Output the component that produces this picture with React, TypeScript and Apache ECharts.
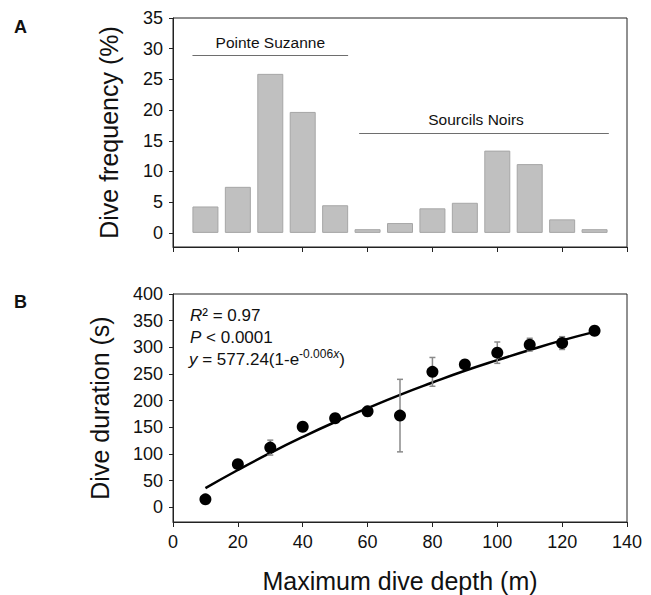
import React, { useEffect, useRef } from "react";
import * as echarts from "echarts";

// ---- Data ----
const depthBins = [10, 20, 30, 40, 50, 60, 70, 80, 90, 100, 110, 120, 130];
const diveFrequency = [4.3, 7.5, 25.9, 19.7, 4.5, 0.6, 1.6, 4.0, 4.9, 13.4, 11.2, 2.2, 0.6];

const meanDuration = [15, 81, 112, 151, 167, 180, 172, 254, 268, 290, 305, 308, 331];
const durationErr = [0, 3, 14, 0, 3, 9, 68, 27, 4, 20, 12, 12, 0];
// fitted curve at each depth
const fitDuration = [36, 70, 102, 132, 160, 186, 211, 234, 256, 276, 295, 313, 329];

const freqTicks = [0, 5, 10, 15, 20, 25, 30, 35];
const durTicks = [0, 50, 100, 150, 200, 250, 300, 350, 400];

const siteA = { name: "Pointe Suzanne", from: 6, to: 54, level: 28.9 };
const siteB = { name: "Sourcils Noirs", from: 57.4, to: 134.4, level: 16.2 };

const FONT = "'Liberation Sans', Arial, Helvetica, sans-serif";
const AXIS_COLOR = "#222";
const TEXT_COLOR = "#111";

export default function App() {
  const ref = useRef<HTMLDivElement>(null);

  useEffect(() => {
    if (!ref.current) return;
    const chart = echarts.init(ref.current, undefined, { renderer: "svg" });

    const baseX = (gridIndex: number, showLabels: boolean, name: string) => ({
      type: "value",
      gridIndex,
      min: 0,
      max: 140,
      interval: 20,
      name,
      nameLocation: "middle",
      nameGap: 46,
      nameTextStyle: { fontSize: 25, color: TEXT_COLOR, fontFamily: FONT },
      axisLine: { show: true, onZero: false, lineStyle: { color: AXIS_COLOR, width: 1 } },
      axisTick: { show: true, inside: false, length: 5, lineStyle: { color: AXIS_COLOR } },
      axisLabel: { show: showLabels, fontSize: 18, color: TEXT_COLOR, fontFamily: FONT, margin: 11 },
      splitLine: { show: false },
    });

    const baseY = (gridIndex: number, min: number, max: number, ticks: number[], name: string, gap: number) => ({
      type: "value",
      gridIndex,
      min,
      max,
      name,
      nameLocation: "middle",
      nameGap: gap,
      nameTextStyle: { fontSize: 25, color: TEXT_COLOR, fontFamily: FONT },
      axisLine: { show: true, onZero: false, lineStyle: { color: AXIS_COLOR, width: 1 } },
      axisTick: { show: true, inside: false, length: 4, customValues: ticks, lineStyle: { color: AXIS_COLOR } },
      axisLabel: { show: true, customValues: ticks, fontSize: 18, color: TEXT_COLOR, fontFamily: FONT, margin: 10 },
      splitLine: { show: false },
    });

    const siteLine = (s: typeof siteA, dist: number, pad: number[]) => [
      {
        coord: [s.from, s.level],
        label: {
          show: true,
          position: "middle",
          formatter: s.name,
          fontSize: 15.5,
          color: TEXT_COLOR,
          fontFamily: FONT,
          distance: dist,
          padding: pad,
        },
      },
      { coord: [s.to, s.level] },
    ];

    const option: any = {
      animation: false,
      textStyle: { fontFamily: FONT },
      grid: [
        { left: 173, top: 18, width: 454, height: 229, show: true, borderColor: AXIS_COLOR, borderWidth: 1, backgroundColor: "transparent" },
        { left: 173, top: 294, width: 454, height: 228, show: true, borderColor: AXIS_COLOR, borderWidth: 1, backgroundColor: "transparent" },
      ],
      xAxis: [baseX(0, false, ""), baseX(1, true, "Maximum dive depth (m)")],
      yAxis: [
        baseY(0, -2.3, 35, freqTicks, "Dive frequency (%)", 52),
        baseY(1, -27.5, 400, durTicks, "Dive duration (s)", 61),
      ],
      series: [
        {
          type: "bar",
          xAxisIndex: 0,
          yAxisIndex: 0,
          barWidth: 26,
          data: depthBins.map((d, i) => [d, diveFrequency[i]]),
          itemStyle: { color: "#c0c0c0", borderColor: "#a6a6a6", borderWidth: 1 },
          silent: true,
          markLine: {
            silent: true,
            symbol: "none",
            lineStyle: { color: "#6e6e6e", width: 1, type: "solid" },
            data: [siteLine(siteA, 5, [0, 0, 0, 0]), siteLine(siteB, 6, [0, 16, 0, 0])],
          },
        },
        {
          type: "line",
          xAxisIndex: 1,
          yAxisIndex: 1,
          data: depthBins.map((d, i) => [d, fitDuration[i]]),
          smooth: true,
          showSymbol: false,
          symbol: "none",
          lineStyle: { color: "#000", width: 2.5 },
          silent: true,
          z: 2,
        },
        {
          type: "custom",
          xAxisIndex: 1,
          yAxisIndex: 1,
          data: depthBins.map((d, i) => [d, meanDuration[i] - durationErr[i], meanDuration[i] + durationErr[i]]),
          encode: { x: 0, y: [1, 2] },
          silent: true,
          z: 3,
          renderItem: (params: any, api: any) => {
            const x = api.value(0);
            const lo = api.coord([x, api.value(1)]);
            const hi = api.coord([x, api.value(2)]);
            if (Math.abs(lo[1] - hi[1]) < 0.5) return { type: "group", children: [] };
            const style = { stroke: "#8a8a8a", lineWidth: 1.5 };
            const cap = 3;
            return {
              type: "group",
              children: [
                { type: "line", shape: { x1: lo[0], y1: lo[1], x2: hi[0], y2: hi[1] }, style },
                { type: "line", shape: { x1: lo[0] - cap, y1: lo[1], x2: lo[0] + cap, y2: lo[1] }, style },
                { type: "line", shape: { x1: hi[0] - cap, y1: hi[1], x2: hi[0] + cap, y2: hi[1] }, style },
              ],
            };
          },
        },
        {
          type: "scatter",
          xAxisIndex: 1,
          yAxisIndex: 1,
          data: depthBins.map((d, i) => [d, meanDuration[i]]),
          symbol: "circle",
          symbolSize: 12,
          itemStyle: { color: "#000", opacity: 1 },
          silent: true,
          z: 4,
        },
      ],
      graphic: [
        { type: "text", left: 14, top: 18, style: { text: "A", fontSize: 18, fontWeight: "bold", fill: TEXT_COLOR, fontFamily: FONT } },
        { type: "text", left: 14, top: 293, style: { text: "B", fontSize: 18, fontWeight: "bold", fill: TEXT_COLOR, fontFamily: FONT } },
        {
          type: "text",
          x: 190,
          y: 315,
          style: {
            text: "{i|R}² = 0.97",
            fontSize: 17,
            fill: TEXT_COLOR,
            fontFamily: FONT,
            verticalAlign: "middle",
            rich: { i: { fontStyle: "italic", fontSize: 17, fontFamily: FONT } },
          },
        },
        {
          type: "text",
          x: 190,
          y: 337.5,
          style: {
            text: "{i|P} < 0.0001",
            fontSize: 17,
            fill: TEXT_COLOR,
            fontFamily: FONT,
            verticalAlign: "middle",
            rich: { i: { fontStyle: "italic", fontSize: 17, fontFamily: FONT } },
          },
        },
        {
          type: "text",
          x: 189,
          y: 359,
          style: {
            text: "{i|y}{n| = 577.24(1-e}{sup|-0.006}{supi|x}{n|)}",
            fontSize: 17,
            fill: TEXT_COLOR,
            fontFamily: FONT,
            verticalAlign: "middle",
            rich: {
              i: { fontStyle: "italic", fontSize: 17, fontFamily: FONT, lineHeight: 22, verticalAlign: "middle" },
              n: { fontSize: 17, fontFamily: FONT, lineHeight: 22, verticalAlign: "middle" },
              sup: { fontSize: 12, fontFamily: FONT, lineHeight: 12, verticalAlign: "top" },
              supi: { fontSize: 12, fontStyle: "italic", fontFamily: FONT, lineHeight: 12, verticalAlign: "top" },
            },
          },
        },
      ],
    };

    chart.setOption(option);
    return () => chart.dispose();
  }, []);

  return (
    <div
      ref={ref}
      style={{ position: "fixed", left: 0, top: 0, width: 651, height: 595, background: "#fff" }}
    />
  );
}
